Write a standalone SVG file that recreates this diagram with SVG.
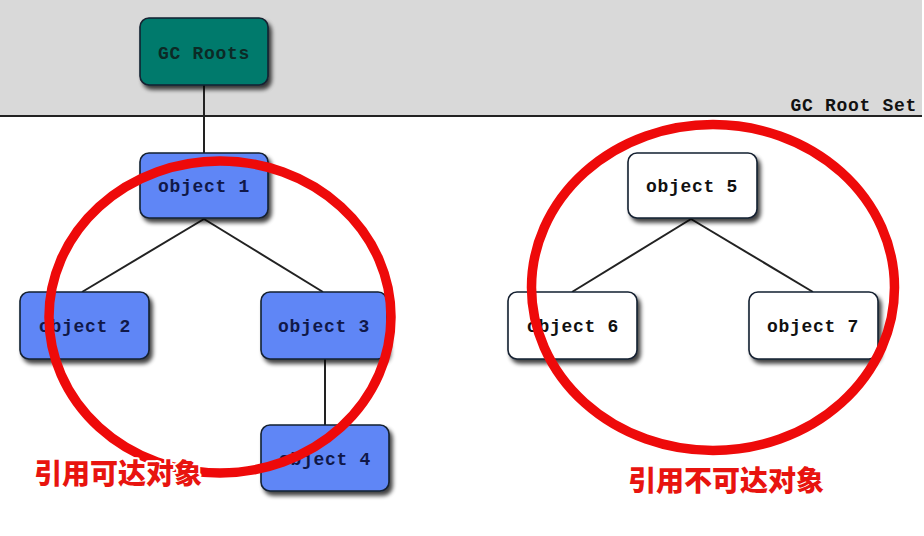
<svg xmlns="http://www.w3.org/2000/svg" width="924" height="536" viewBox="0 0 924 536">
<style>
.node rect{stroke:#152030;stroke-width:1.6}
.node text{font-family:"Liberation Mono",monospace;font-size:18px;letter-spacing:0.7px;text-anchor:middle;font-weight:bold}
.blue rect{fill:#5f86f6}
.blue text{fill:#101848}
.teal rect{fill:#007a6c}
.teal text{fill:#0c2a26}
.white rect{fill:#ffffff}
.white text{fill:#111111}
.conn line{stroke:#222;stroke-width:2}
.ring{fill:none;stroke:#ee0a0a;stroke-width:9.5}
.lbl{font-family:"Noto Sans CJK SC",sans-serif;font-weight:900;font-size:28px;fill:#e8140f;stroke:#fff;stroke-width:4;paint-order:stroke;stroke-linejoin:round;text-anchor:middle}
</style>
<defs>
<filter id="sh" x="-20%" y="-20%" width="150%" height="160%">
<feGaussianBlur in="SourceAlpha" stdDeviation="2.2"/>
<feOffset dx="3" dy="4" result="b"/>
<feComponentTransfer><feFuncA type="linear" slope="0.75"/></feComponentTransfer>
<feMerge><feMergeNode/><feMergeNode in="SourceGraphic"/></feMerge>
</filter>
</defs>
<rect x="0" y="0" width="924" height="536" fill="#ffffff"/>
<rect x="0" y="0" width="922" height="116" fill="#d9d9d9"/>
<line x1="0" y1="116" x2="922" y2="116" stroke="#222" stroke-width="2"/>
<text x="917" y="111" font-family="Liberation Mono,monospace" font-size="18" font-weight="bold" letter-spacing="0.7" text-anchor="end" fill="#111">GC Root Set</text>
<g class="conn">
<line x1="204" y1="85" x2="204" y2="153"/>
<line x1="204" y1="219" x2="82" y2="292"/>
<line x1="204" y1="219" x2="323" y2="292"/>
<line x1="325" y1="359" x2="325" y2="425"/>
<line x1="691" y1="219" x2="572" y2="292"/>
<line x1="691" y1="219" x2="813" y2="292"/>
</g>
<g id="gcroots" class="node teal"><rect x="140" y="18" width="128" height="67" rx="9" filter="url(#sh)"/><text x="204" y="59">GC Roots</text></g>
<g id="obj1" class="node blue"><rect x="140" y="153" width="128" height="65" rx="9" filter="url(#sh)"/><text x="204" y="192">object 1</text></g>
<g id="obj2" class="node blue"><rect x="20" y="292" width="129" height="67" rx="9" filter="url(#sh)"/><text x="85" y="332">object 2</text></g>
<g id="obj3" class="node blue"><rect x="261" y="292" width="126" height="67" rx="9" filter="url(#sh)"/><text x="324" y="332">object 3</text></g>
<g id="obj4" class="node blue"><rect x="261" y="425" width="128" height="66" rx="9" filter="url(#sh)"/><text x="325" y="465">object 4</text></g>
<g id="obj5" class="node white"><rect x="628" y="153" width="129" height="65" rx="9" filter="url(#sh)"/><text x="692" y="192">object 5</text></g>
<g id="obj6" class="node white"><rect x="508" y="292" width="129" height="67" rx="9" filter="url(#sh)"/><text x="573" y="332">object 6</text></g>
<g id="obj7" class="node white"><rect x="749" y="292" width="129" height="67" rx="9" filter="url(#sh)"/><text x="813" y="332">object 7</text></g>
<g id="annotations">
<ellipse class="ring" cx="220" cy="317" rx="171" ry="156"/>
<ellipse class="ring" cx="713" cy="287.5" rx="181.5" ry="163"/>
<text class="lbl" x="118" y="484">引用可达对象</text>
<text class="lbl" x="726" y="491">引用不可达对象</text>
</g>
</svg>
